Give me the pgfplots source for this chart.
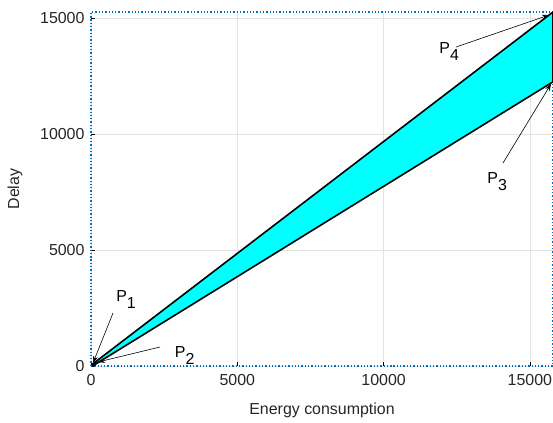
\documentclass[border=0pt]{standalone}
\usepackage{fontspec}
\setmainfont{Liberation Sans}
\usepackage{pgfplots}
\pgfplotsset{compat=1.18}
\usetikzlibrary{arrows.meta}
\definecolor{fillcyan}{RGB}{0,255,255}
\definecolor{axblue}{RGB}{0,114,189}
\newcommand{\Plab}[1]{P\raisebox{-7bp}{#1}}
\begin{document}
\begin{tikzpicture}
\useasboundingbox (-91bp,-57bp) rectangle (462bp,366bp);
\begin{axis}[
  at={(0,0)}, anchor=south west,
  scale only axis, width=462bp, height=354bp,
  xmin=0, xmax=15790, ymin=0, ymax=15260,
  xtick={0,5000,10000,15000}, ytick={0,5000,10000,15000},
  scaled ticks=false,
  /pgf/number format/assume math mode=true,
  /pgf/number format/1000 sep={},
  xtick pos=bottom, ytick pos=left, tick align=inside,
  major tick length=4bp,
  tick style={black, line width=0.5pt},
  grid=major, grid style={gray!22, line width=0.5pt},
  axis line style={draw=axblue, dotted, line width=1.3pt},
  tick label style={font=\fontsize{16}{19}\selectfont, text=black!85},
  label style={font=\fontsize{16}{19}\selectfont, text=black!85},
  xticklabel style={yshift=-5bp},
  yticklabel style={xshift=-3bp},
  xlabel={Energy consumption}, ylabel={Delay},
  xlabel style={at={(axis description cs:0.5,0)}, anchor=center, yshift=-44bp},
  ylabel style={at={(axis description cs:0,0.5)}, anchor=center, yshift=76bp},
  clip=false,
]
\addplot[fill=fillcyan, draw=black, line width=1.6pt, line join=round]
  coordinates {(30,60) (15790,15260) (15790,12250) (80,20) (30,60)};
\draw[line width=0.6pt, -{Stealth[length=7bp,width=5bp]}] (axis cs:752,2284) -- (axis cs:68,129);
\draw[line width=0.6pt, -{Stealth[length=7bp,width=5bp]}] (axis cs:2358,819) -- (axis cs:239,172);
\draw[line width=0.6pt, -{Stealth[length=7bp,width=5bp]}] (axis cs:14081,8750) -- (axis cs:15721,12155);
\draw[line width=0.6pt, -{Stealth[length=7bp,width=5bp]}] (axis cs:12474,13750) -- (axis cs:15653,15129);
\node[font=\fontsize{16}{19}\selectfont] at (axis cs:1200,2850) {\Plab{1}};
\node[font=\fontsize{16}{19}\selectfont] at (axis cs:3200,450) {\Plab{2}};
\node[font=\fontsize{16}{19}\selectfont] at (axis cs:13880,7950) {\Plab{3}};
\node[font=\fontsize{16}{19}\selectfont] at (axis cs:12240,13550) {\Plab{4}};
\end{axis}
\end{tikzpicture}
\end{document}
